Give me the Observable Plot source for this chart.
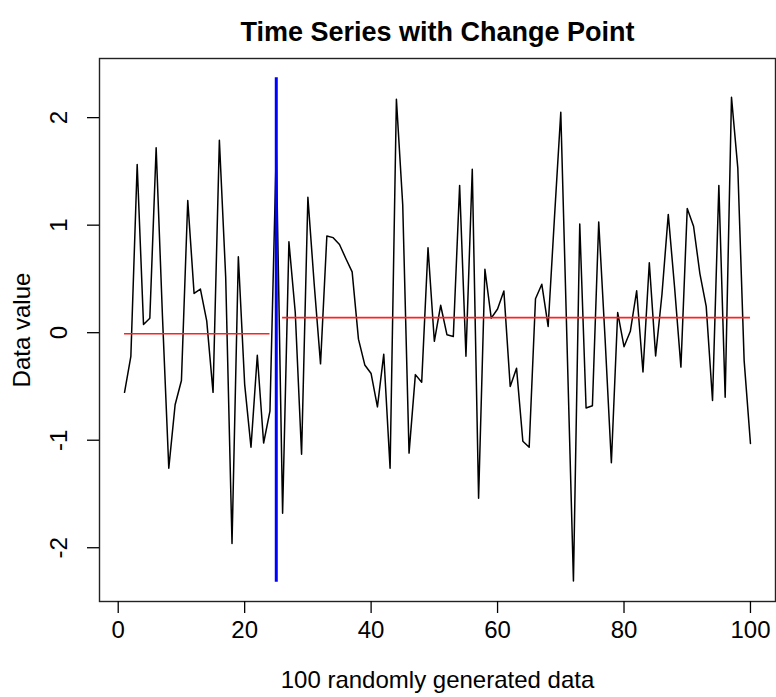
<!DOCTYPE html>
<html><head><meta charset="utf-8">
<script src="https://cdn.jsdelivr.net/npm/d3@7"></script>
<script src="https://cdn.jsdelivr.net/npm/@observablehq/plot@0.6"></script>
<style>html,body{margin:0;padding:0;background:#fff} svg{display:block}</style>
</head><body><div id="chart"></div>
<script>
// Series values (index 1..100)
const values = [
  -0.555, -0.22, 1.565, 0.077, 0.135, 1.72, 0.15, -1.26, -0.67, -0.445,
  1.23, 0.365, 0.406, 0.11, -0.555, 1.79, 0.516, -1.96, 0.706, -0.48,
  -1.065, -0.21, -1.026, -0.73, 1.7, -1.68, 0.845, 0.19, -1.13, 1.26,
  0.45, -0.29, 0.9, 0.884, 0.82, 0.69, 0.565, -0.06, -0.30, -0.38,
  -0.69, -0.20, -1.26, 2.17, 1.19, -1.12, -0.39, -0.46, 0.79, -0.08,
  0.255, -0.02, -0.035, 1.37, -0.22, 1.52, -1.54, 0.59, 0.135, 0.22,
  0.387, -0.50, -0.33, -1.01, -1.065, 0.316, 0.45, 0.058, 1.07, 2.05,
  -0.13, -2.31, 1.01, -0.70, -0.68, 1.03, -0.05, -1.21, 0.187, -0.13,
  0.013, 0.39, -0.365, 0.65, -0.216, 0.355, 1.10, 0.42, -0.32, 1.155,
  0.99, 0.55, 0.245, -0.63, 1.37, -0.60, 2.19, 1.53, -0.26, -1.03
];
// Segment means
const segStart = [1, 26];
const segEnd = [24, 100];
const segMean = [-0.01, 0.14];
// Change point
const changePoint = [25];
const cpLow = -2.32;
const cpHigh = 2.37;
// Axes
const xDomain = [-2.96, 103.96];
const yDomain = [-2.50, 2.55];
const xTicks = [0, 20, 40, 60, 80, 100];
const yTicks = [-2, -1, 0, 1, 2];
const titleText = "Time Series with Change Point";
const xLabel = "100 randomly generated data";
const yLabel = "Data value";

const series = values.map((v, i) => ({t: i + 1, v}));
const segs = segMean.map((m, i) => ({x1: segStart[i], x2: segEnd[i], y: m}));

const chart = Plot.plot({
  width: 776,
  height: 697,
  marginTop: 58,
  marginBottom: 96,
  marginLeft: 99,
  marginRight: 1,
  style: {fontFamily: "'Liberation Sans', Arial, Helvetica, sans-serif", background: "#fff", color: "#000"},
  x: {domain: xDomain, axis: null},
  y: {domain: yDomain, axis: null},
  marks: [
    Plot.line(series, {x: "t", y: "v", stroke: "#000", strokeWidth: 1.5}),
    Plot.ruleY(segs, {x1: "x1", x2: "x2", y: "y", stroke: "#ff2020", strokeWidth: 1.6}),
    Plot.ruleX(changePoint, {x: d => d, y1: () => cpLow, y2: () => cpHigh, stroke: "#0000ff", strokeWidth: 3}),
    Plot.frame({stroke: "#222", strokeWidth: 1.4}),
    Plot.axisX({ticks: xTicks, tickSize: 12, tickPadding: 7, fontSize: 24, label: null, strokeWidth: 1.3}),
    Plot.axisY({ticks: yTicks, tickSize: 12, tickFormat: () => "", label: null, strokeWidth: 1.3}),
    Plot.text(yTicks, {y: d => d, text: d => String(d), frameAnchor: "left", dx: -40, rotate: -90, fontSize: 24, textAnchor: "middle", lineAnchor: "middle"}),
    Plot.text([xLabel], {text: d => d, frameAnchor: "bottom", dy: 79, fontSize: 24, textAnchor: "middle", lineAnchor: "middle"}),
    Plot.text([yLabel], {text: d => d, frameAnchor: "left", dx: -77, rotate: -90, fontSize: 24, textAnchor: "middle", lineAnchor: "middle"}),
    Plot.text([titleText], {text: d => d, frameAnchor: "top", dy: -26, fontSize: 27, fontWeight: "bold", textAnchor: "middle", lineAnchor: "middle"})
  ]
});
document.getElementById("chart").appendChild(chart);
</script>
</body></html>
